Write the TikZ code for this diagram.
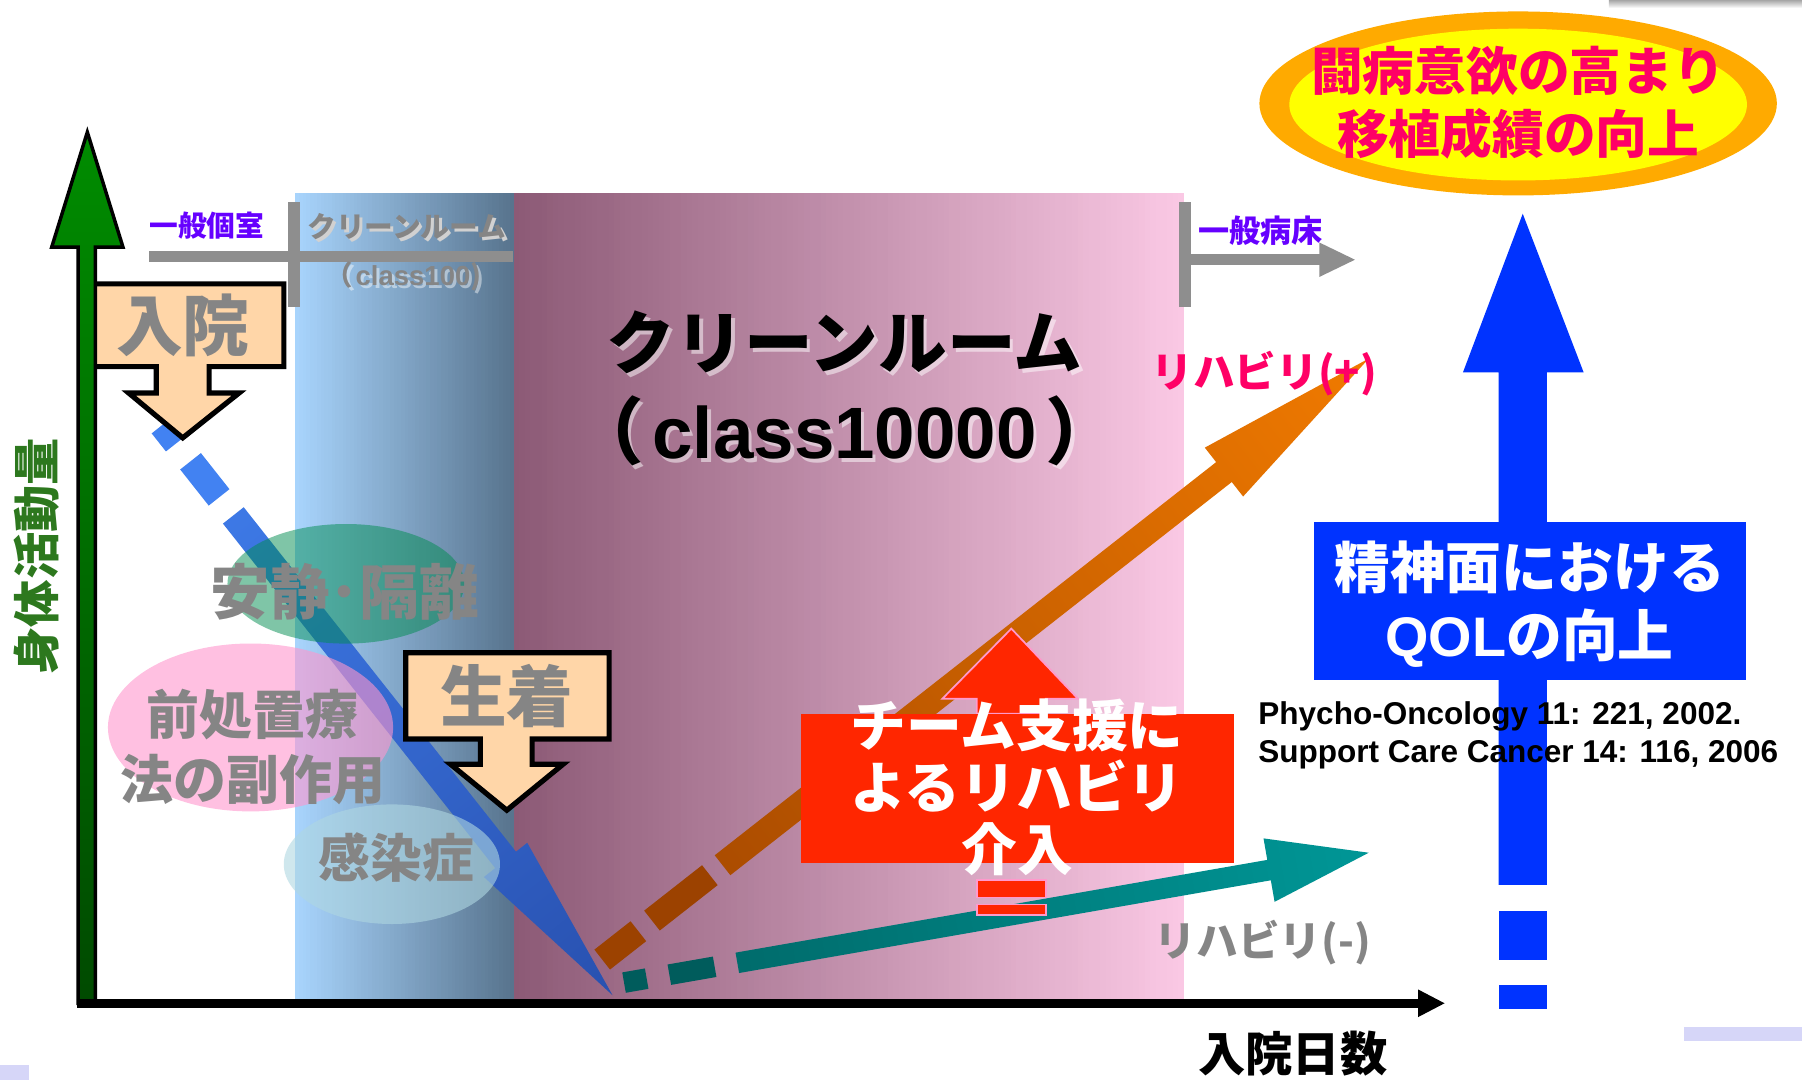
\documentclass[tikz,border=0pt]{standalone}
\usepackage{fontspec}
\newfontfamily\jp{Noto Sans CJK JP}
\newfontfamily\ar{Liberation Sans}
\usetikzlibrary{calc}
\newcommand\jpf[2]{\jp\bfseries\fontsize{#1}{#2}\selectfont}
\newcommand\arf[2]{\ar\bfseries\fontsize{#1}{#2}\selectfont}
\definecolor{bandBL}{HTML}{A8D4FC}
\definecolor{bandBR}{HTML}{58748E}
\definecolor{bandML}{HTML}{8C5A76}
\definecolor{bandMR}{HTML}{FAC8E4}
\definecolor{axGT}{HTML}{008C00}
\definecolor{axGB}{HTML}{004A00}
\definecolor{brkGray}{HTML}{8E8E8E}
\definecolor{ppl}{HTML}{6600FF}
\definecolor{peach}{HTML}{FFD6A8}
\definecolor{txtGray}{HTML}{858585}
\definecolor{blA}{HTML}{4282F2}
\definecolor{blB}{HTML}{2448A4}
\definecolor{orA}{HTML}{9C4200}
\definecolor{orB}{HTML}{FF8400}
\definecolor{tlA}{HTML}{005C5C}
\definecolor{tlB}{HTML}{00A6A6}
\definecolor{redbox}{HTML}{FF2600}
\definecolor{pinkline}{HTML}{FF99CC}
\definecolor{qolBlue}{HTML}{0033FF}
\definecolor{ellOr}{HTML}{FFAA00}
\definecolor{ellYe}{HTML}{FFFF00}
\definecolor{pinkT}{HTML}{FF0066}
\definecolor{lavender}{HTML}{D6D6F8}
\definecolor{ellGreen}{HTML}{008C50}
\definecolor{ellPink}{HTML}{FF96CD}
\definecolor{ellCyan}{HTML}{AFD7E1}
\definecolor{yGreen}{HTML}{2D781E}
\pgfdeclarehorizontalshading{shBlue}{100bp}{color(0bp)=(blA); color(100bp)=(blB)}
\pgfdeclarehorizontalshading{shOrange}{100bp}{color(0bp)=(orA); color(100bp)=(orB)}
\pgfdeclarehorizontalshading{shTeal}{100bp}{color(0bp)=(tlA); color(100bp)=(tlB)}
\tikzset{
  brk/.style={draw=brkGray, line width=1mm},
  lbl/.style={inner sep=0pt, outer sep=0pt},
  callout/.style={fill=peach, draw=black, line width=0.45mm, line join=miter},
  redpart/.style={fill=redbox, draw=pinkline, line width=0.15mm},
}
\begin{document}
\begin{tikzpicture}[x=0.01cm, y=-0.01cm]
\useasboundingbox (0,0) rectangle (1568,940);
\fill[white] (0,0) rectangle (1568,940);
% slide decorations
\shade[top color=black!35, bottom color=white] (1400,0) rectangle (1568,7);
\fill[lavender] (0,927) rectangle (25,940);
\fill[lavender] (1465,894) rectangle (1568,906);
% bands (linear gradients as strips)
\foreach \i in {0,...,59}{
  \pgfmathsetmacro\xa{257+\i*3.16667}
  \pgfmathsetmacro\xb{min(\xa+3.8,447)}
  \pgfmathtruncatemacro\pc{round(\i*1.69492)}
  \fill[bandBR!\pc!bandBL] (\xa,168) rectangle (\xb,873);
}
\foreach \i in {0,...,119}{
  \pgfmathsetmacro\xa{447+\i*4.85833}
  \pgfmathsetmacro\xb{min(\xa+5.4,1030)}
  \pgfmathtruncatemacro\pc{round(\i*0.84034)}
  \fill[bandMR!\pc!bandML] (\xa,168) rectangle (\xb,873);
}
% brackets
\coordinate (kL1) at (130,223); \coordinate (kL2) at (446,223);
\coordinate (kV1) at (256,176); \coordinate (kV2) at (256,267);
\draw[brk] (kL1) -- (kL2);
\draw[brk] (kV1) -- (kV2);
\coordinate (kW1) at (1031,176); \coordinate (kW2) at (1031,267);
\draw[brk] (kW1) -- (kW2);
\coordinate (kR1) at (1031,226); \coordinate (kR2) at (1152,226);
\draw[brk] (kR1) -- (kR2);
\fill[brkGray] (1148,211) -- (1179,226) -- (1148,241) -- cycle;
\node[lbl, font=\jpf{7.1}{8.5}, text=ppl] (tIppanA) at (180,196) {一般個室};
\node[lbl, font=\jpf{7.1}{8.5}, text=black!18] (tCRsh) at (356.5,199.5) {クリーンルーム};
\node[lbl, font=\jpf{7.1}{8.5}, text=txtGray] (tCRs) at (354,197) {クリーンルーム};
\node[lbl, font=\arf{6.8}{8}, text=white, opacity=0.45] (tC100s) at (359.5,243.5) {{\jp\kern-.5em（\kern.1em}class100{\jp )}};
\node[lbl, font=\arf{6.8}{8}, text=txtGray] (tC100) at (357,241) {{\jp\kern-.5em（\kern.1em}class100{\jp )}};
\node[lbl, font=\jpf{7.7}{9}, text=ppl] (tIppanB) at (1097,201) {一般病床};
% blue descending line
\coordinate (bS) at (141,370); \coordinate (bE) at (533,866);
\foreach \a/\b in {0/2,4/8}
  \draw[line width=2.3mm, draw=blA] ($(bS)!\a mm!(bE)$) -- ($(bS)!\b mm!(bE)$);
\coordinate (bT) at ($(bS)!10mm!(bE)$);
\coordinate (bH) at ($(bE)!15mm!(bS)$);
\shade[shading=shBlue, shading angle=-51.7] ($(bT)!1.15mm!90:(bE)$) -- ($(bH)!1.15mm!90:(bE)$) -- ($(bH)!2.4mm!90:(bE)$) -- (bE) -- ($(bH)!2.4mm!-90:(bE)$) -- ($(bH)!1.15mm!-90:(bE)$) -- ($(bT)!1.15mm!-90:(bE)$) -- cycle;
% ellipses
\fill[ellGreen, opacity=0.5] (301,508) ellipse [x radius=10.3mm, y radius=5.2mm];
\node[lbl, font=\jpf{14.8}{17}, text=txtGray] (tAnsei) at (300,515) {安静･隔離};
\fill[ellPink, opacity=0.6] (218,633) ellipse [x radius=12.4mm, y radius=7.3mm];
\node[lbl, font=\jpf{13.1}{15.9}, text=txtGray, align=center] (tZensho) at (220,650) {前処置療\\法の副作用};
\fill[ellCyan, opacity=0.6] (341,752) ellipse [x radius=9.4mm, y radius=5.2mm];
\node[lbl, font=\jpf{12.8}{15}, text=txtGray] (tKansen) at (345,746) {感染症};
% callouts
\path[callout] (71,247) -- (247,247) -- (247,319) -- (182,319) -- (182,342) -- (208,342) -- (159,381) -- (112,342) -- (136,342) -- (136,319) -- (71,319) -- cycle;
\node[lbl, font=\jpf{16.5}{18}, text=txtGray] (tNyuin) at (159,283) {入院};
\path[callout] (353,568) -- (530,568) -- (530,643) -- (463,643) -- (463,665) -- (490,665) -- (441,705) -- (392,665) -- (418,665) -- (418,643) -- (353,643) -- cycle;
\node[lbl, font=\jpf{16.5}{18}, text=txtGray] (tSeichaku) at (441,606) {生着};
% orange arrow
\coordinate (oS) at (524,835); \coordinate (oE) at (1191,312);
\foreach \a/\b in {0/4,5.5/11.9}
  \draw[line width=2.2mm, draw=orA] ($(oS)!\a mm!(oE)$) -- ($(oS)!\b mm!(oE)$);
\coordinate (oT) at ($(oS)!13.3mm!(oE)$);
\coordinate (oH) at ($(oE)!16mm!(oS)$);
\shade[shading=shOrange, shading angle=38.1] ($(oT)!1.1mm!90:(oE)$) -- ($(oH)!1.1mm!90:(oE)$) -- ($(oH)!2.7mm!90:(oE)$) -- (oE) -- ($(oH)!2.7mm!-90:(oE)$) -- ($(oH)!1.1mm!-90:(oE)$) -- ($(oT)!1.1mm!-90:(oE)$) -- cycle;
% teal arrow
\coordinate (tS) at (543,855); \coordinate (tE) at (1191,742);
\foreach \a/\b in {0/2,4/8}
  \draw[line width=1.8mm, draw=tlA] ($(tS)!\a mm!(tE)$) -- ($(tS)!\b mm!(tE)$);
\coordinate (tT) at ($(tS)!10mm!(tE)$);
\coordinate (tH) at ($(tE)!8.8mm!(tS)$);
\shade[shading=shTeal, shading angle=10.1] ($(tT)!0.9mm!90:(tE)$) -- ($(tH)!0.9mm!90:(tE)$) -- ($(tH)!2.8mm!90:(tE)$) -- (tE) -- ($(tH)!2.8mm!-90:(tE)$) -- ($(tH)!0.9mm!-90:(tE)$) -- ($(tT)!0.9mm!-90:(tE)$) -- cycle;
% red team arrow
\path[redpart] (850,621) -- (850,608) -- (820,608) -- (880,547) -- (938,608) -- (910,608) -- (910,621) -- cycle;
\path[redpart] (850,766) rectangle (910,781);
\path[redpart] (850,787) rectangle (910,796);
\fill[redbox] (697,621) rectangle (1074,751);
\node[lbl, font=\jpf{13.8}{15.4}, text=white, align=center] (tTeam) at (885,685) {チーム支援に\\よるリハビリ\\介入};
% title
\node[lbl, font=\jpf{17}{20}, text=white, opacity=0.5] (tTitleAs) at (738,301) {クリーンルーム};
\node[lbl, font=\jpf{17}{20}, text=black] (tTitleA) at (735,298) {クリーンルーム};
\node[lbl, font=\arf{18}{20}, text=white, opacity=0.5] (tTitleBs) at (738,378) {{\jp\kern-.5em（\kern.12em}class10000{\jp\kern.12em ）\kern-.5em}};
\node[lbl, font=\arf{18}{20}, text=black] (tTitleB) at (735,375) {{\jp\kern-.5em（\kern.12em}class10000{\jp\kern.12em ）\kern-.5em}};
% rehab labels
\node[lbl, anchor=west, font=\jpf{10.3}{12}, text=pinkT] (tRehaP) at (1002,325) {リハビリ(+)};
\node[lbl, anchor=west, font=\jpf{10.3}{12}, text=txtGray] (tRehaM) at (1005,820) {リハビリ(-)};
% QOL arrow
\fill[qolBlue] (1304,770) -- (1304,324) -- (1273,324) -- (1325,186) -- (1378,324) -- (1346,324) -- (1346,770) -- cycle;
\fill[qolBlue] (1304,793) rectangle (1346,835);
\fill[qolBlue] (1304,857) rectangle (1346,878);
\fill[qolBlue] (1143,454) rectangle (1519,592);
\node[lbl, font=\jpf{13.8}{16.8}, text=white, align=center] (tQOL) at (1331,526) {精神面における\\{\ar\bfseries QOL}の向上};
\node[lbl, anchor=west, align=left, font=\arf{7.8}{9.4}, text=black] (tCite) at (1095,640) {Phycho-Oncology 11: 221, 2002.\\Support Care Cancer 14: 116, 2006};
% top ellipse
\fill[ellOr] (1321,90) ellipse [x radius=22.5mm, y radius=8mm];
\fill[ellYe] (1321,91) ellipse [x radius=19.9mm, y radius=6.6mm];
\node[lbl, font=\jpf{12.8}{15.6}, text=pinkT, align=center] (tToubyou) at (1321,89) {闘病意欲の高まり\\移植成績の向上};
% axes
\coordinate (yB) at (76,873); \coordinate (yT) at (76,115);
\shadedraw[top color=axGT, bottom color=axGB, draw=black, line width=0.3mm] (68,873) -- (68,215) -- (45,215) -- (yT) -- (107,215) -- (83,215) -- (83,873) -- cycle;
\coordinate (xL) at (67,873); \coordinate (xR) at (1238,873); \coordinate (xTip) at (1257,873);
\draw[line width=0.8mm] (xL) -- (xR);
\fill (1234,861) -- (xTip) -- (1234,885) -- cycle;
\node[lbl, font=\jpf{11.7}{13}, text=black] (tDays) at (1125,917) {入院日数};
\node[lbl, rotate=90, font=\jpf{11.7}{13}, text=yGreen] (tAct) at (32,484) {身体活動量};
\end{tikzpicture}
\end{document}
